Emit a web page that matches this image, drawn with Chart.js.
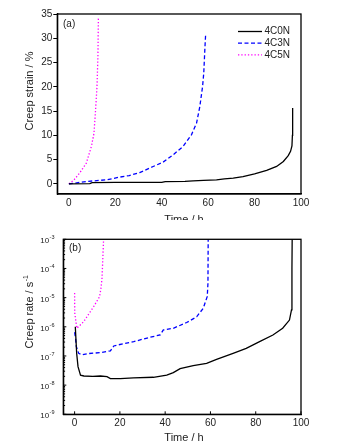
<!DOCTYPE html>
<html>
<head>
<meta charset="utf-8">
<script src="https://cdn.jsdelivr.net/npm/chart.js@4.4.0/dist/chart.umd.min.js"></script>
<style>
  body { margin: 0; background: #fff; }
  #boxA { position: absolute; left: 0; top: 0; width: 358px; height: 220px; }
  #boxB { position: absolute; left: 0; top: 220px; width: 358px; height: 228px; }
</style>
</head>
<body>
<div id="boxA"><canvas id="strainChart" width="358" height="220"></canvas></div>
<div id="boxB"><canvas id="rateChart" width="358" height="228"></canvas></div>
<script>
// (a) creep strain (%) vs time (h)
var seriesNames = ["4C0N", "4C3N", "4C5N"];
var strainTimeOne = [0, 9, 10, 20, 30, 40, 41.5, 50, 53.5, 58, 63.6, 67, 70.8, 75, 80, 85.2, 89.5, 92.4, 94.5, 95.5, 96.1, 96.3, 96.4];
var strainOne = [0, 0.05, 0.25, 0.28, 0.3, 0.3, 0.45, 0.5, 0.6, 0.7, 0.83, 1.0, 1.17, 1.5, 2.06, 2.75, 3.58, 4.6, 5.8, 6.7, 7.8, 10, 15.6];
var strainTimeTwo = [0, 2.5, 8, 16.1, 21.9, 26, 30.5, 36.3, 40.6, 44.9, 49.2, 52.8, 55, 56.4, 57.6, 58.1, 58.6, 58.9];
var strainTwo = [0, 0.14, 0.5, 0.82, 1.38, 1.7, 2.3, 3.57, 4.47, 5.98, 7.7, 10.1, 12.5, 15.9, 20.1, 22.8, 28, 30.7];
var strainTimeThree = [0, 2, 4.6, 7.5, 9.7, 10.8, 11.5, 12.1, 12.5, 12.7];
var strainThree = [0, 0.7, 2.2, 4.26, 7.7, 10.4, 15.3, 20, 26.2, 34.2];

// (b) creep rate (1/s) vs time (h)
var rateTimeOne = [0.3, 0.9, 1.5, 2.6, 4.1, 8, 11.4, 14.3, 15.8, 20.2, 26, 34.8, 40.7, 43.6, 46.6, 52.4, 58.3, 62.7, 70, 75.8, 81.7, 87.6, 91.9, 94.9, 95.8, 96, 96.1];
var rateOne = [1e-6, 1.24e-7, 4.3e-8, 2.2e-8, 2.06e-8, 2.0e-8, 2.06e-8, 1.95e-8, 1.67e-8, 1.67e-8, 1.76e-8, 1.86e-8, 2.2e-8, 2.68e-8, 3.68e-8, 4.67e-8, 5.6e-8, 7.7e-8, 1.23e-7, 1.83e-7, 3.1e-7, 5.25e-7, 8.9e-7, 1.7e-6, 3.8e-6, 1e-4, 1e-3];
var rateTimeTwo = [0, 0.4, 0.75, 1.8, 3.3, 5.6, 11.4, 15.8, 17.3, 18.7, 26.1, 33.4, 37.8, 39.2, 43.6, 49.5, 53.9, 56.8, 58.6, 58.9, 59];
var rateTwo = [6.5e-7, 4e-7, 2.1e-7, 1.23e-7, 1.1e-7, 1.2e-7, 1.3e-7, 1.5e-7, 2.2e-7, 2.35e-7, 3.1e-7, 4.4e-7, 5.25e-7, 7.8e-7, 8.9e-7, 1.4e-6, 2.2e-6, 4.3e-6, 1.1e-5, 3.1e-5, 1e-3];
var rateTimeThree = [0, 0.05, 1, 4, 8.4, 11, 11.6, 12.1, 12.8];
var rateThree = [1.45e-5, 3e-6, 8.9e-7, 1.5e-6, 4.9e-6, 1.07e-5, 2e-5, 4.6e-5, 1e-3];

var timeTicks = [0, 20, 40, 60, 80, 100];
var strainTicks = [0, 5, 10, 15, 20, 25, 30, 35];
var rateExponents = [-9, -8, -7, -6, -5, -4, -3];

var FONT = '"Liberation Sans", Arial, sans-serif';
var colors = ["#000000", "#0000ff", "#ff00ff"];
var dashes = [[], [4, 2.5], [1.3, 2]];

function toPoints(xs, ys) {
  return xs.map(function (x, i) { return { x: x, y: ys[i] }; });
}

function makeSet(i, xs, ys) {
  return {
    label: seriesNames[i],
    data: toPoints(xs, ys),
    borderColor: colors[i],
    borderWidth: 1.3,
    borderDash: dashes[i],
    pointRadius: 0,
    tension: 0,
    fill: false
  };
}

// box round the plot area
function drawFrame(chart) {
  var ctx = chart.ctx, a = chart.chartArea;
  ctx.save();
  ctx.strokeStyle = "#000";
  ctx.lineWidth = 1.3;
  ctx.strokeRect(a.left, a.top, a.right - a.left, a.bottom - a.top);
  ctx.restore();
}

// draws axis titles, panel letter and legend
function drawExtras(chart, cfg) {
  var ctx = chart.ctx;
  ctx.save();
  ctx.fillStyle = "#222";
  ctx.textBaseline = "middle";

  // y title, rotated, with optional superscript
  ctx.save();
  ctx.translate(30, cfg.yTitleY);
  ctx.rotate(-Math.PI / 2);
  ctx.font = "11px " + FONT;
  var w1 = ctx.measureText(cfg.yTitle).width;
  var w2 = 0;
  if (cfg.ySup) {
    ctx.font = "7px " + FONT;
    w2 = ctx.measureText(cfg.ySup).width;
  }
  var sx = -(w1 + w2) / 2;
  ctx.font = "11px " + FONT;
  ctx.textAlign = "left";
  ctx.fillText(cfg.yTitle, sx, 0);
  if (cfg.ySup) {
    ctx.font = "7px " + FONT;
    ctx.fillText(cfg.ySup, sx + w1 + 0.5, -4);
  }
  ctx.restore();

  // x title
  ctx.font = "11px " + FONT;
  ctx.textAlign = "center";
  ctx.fillText("Time / h", 184, cfg.xTitleY);

  // panel letter
  ctx.font = "10px " + FONT;
  ctx.textAlign = "left";
  ctx.fillText(cfg.panel, cfg.panelX, cfg.panelY);

  // legend
  if (cfg.legend) {
    chart.data.datasets.forEach(function (ds, i) {
      var y = 31.5 + i * 11.7;
      ctx.save();
      ctx.strokeStyle = ds.borderColor;
      ctx.lineWidth = 1.3;
      ctx.setLineDash(ds.borderDash);
      ctx.beginPath();
      ctx.moveTo(238, y);
      ctx.lineTo(262, y);
      ctx.stroke();
      ctx.restore();
      ctx.font = "10px " + FONT;
      ctx.fillStyle = "#222";
      ctx.fillText(ds.label, 264.5, y);
    });
  }
  ctx.restore();
}

var strainExtras = {
  id: "strainExtras",
  afterDraw: function (chart) {
    drawFrame(chart);
    drawExtras(chart, { yTitle: "Creep strain / %", yTitleY: 91, xTitleY: 220, panel: "(a)", panelX: 63, panelY: 24.5, legend: true });
  }
};

var rateExtras = {
  id: "rateExtras",
  afterDraw: function (chart) {
    var ctx = chart.ctx;
    var ys = chart.scales.y, xs = chart.scales.x, a = chart.chartArea;
    drawFrame(chart);
    ctx.save();
    ctx.strokeStyle = "#000";
    ctx.lineWidth = 1;
    ctx.fillStyle = "#222";
    ctx.textBaseline = "middle";
    rateExponents.forEach(function (e) {
      var py = ys.getPixelForValue(Math.pow(10, e));
      // major tick inward
      ctx.beginPath();
      ctx.moveTo(a.left, py);
      ctx.lineTo(a.left + 3, py);
      ctx.stroke();
      // minor ticks
      if (e < -3) {
        for (var m = 2; m <= 9; m++) {
          var my = ys.getPixelForValue(m * Math.pow(10, e));
          ctx.beginPath();
          ctx.moveTo(a.left, my);
          ctx.lineTo(a.left + 1.8, my);
          ctx.stroke();
        }
      }
      // label 10^e
      ctx.font = "5.5px " + FONT;
      var sup = "-" + Math.abs(e);
      var ew = ctx.measureText(sup).width;
      ctx.textAlign = "left";
      ctx.fillText(sup, 54.5 - ew, py - 1.5);
      ctx.font = "8px " + FONT;
      ctx.textAlign = "right";
      ctx.fillText("10", 54 - ew, py + 1.8);
    });
    timeTicks.forEach(function (t) {
      var px = xs.getPixelForValue(t);
      ctx.beginPath();
      ctx.moveTo(px, a.bottom);
      ctx.lineTo(px, a.bottom - 3);
      ctx.stroke();
    });
    ctx.restore();
    drawExtras(chart, { yTitle: "Creep rate / s", ySup: "-1", yTitleY: 92, xTitleY: 217.5, panel: "(b)", panelX: 69, panelY: 28, legend: false });
  }
};

var tickFont = { family: FONT, size: 10 };
var frame = { display: true, color: "#000", width: 1.3 };

new Chart(document.getElementById("strainChart"), {
  type: "line",
  data: {
    datasets: [
      makeSet(0, strainTimeOne, strainOne),
      makeSet(1, strainTimeTwo, strainTwo),
      makeSet(2, strainTimeThree, strainThree)
    ]
  },
  options: {
    responsive: false,
    animation: false,
    devicePixelRatio: 1,
    layout: { padding: { top: 14, right: 57, left: 0, bottom: 0 } },
    plugins: { legend: { display: false }, tooltip: { enabled: false } },
    scales: {
      x: {
        type: "linear",
        min: -5,
        max: 100,
        afterBuildTicks: function (s) { s.ticks = timeTicks.map(function (v) { return { value: v }; }); },
        afterFit: function (s) { s.height = 26; },
        grid: { display: false, drawTicks: false },
        border: frame,
        ticks: { font: tickFont, color: "#222", padding: 3, maxRotation: 0 }
      },
      y: {
        min: -2.1,
        max: 35,
        afterBuildTicks: function (s) { s.ticks = strainTicks.map(function (v) { return { value: v }; }); },
        afterFit: function (s) { s.width = 57.3; },
        grid: { display: true, drawOnChartArea: false, drawTicks: true, tickLength: 4, color: "#000" },
        border: frame,
        ticks: { font: tickFont, color: "#222", padding: 1 }
      }
    }
  },
  plugins: [strainExtras]
});

new Chart(document.getElementById("rateChart"), {
  type: "line",
  data: {
    datasets: [
      makeSet(0, rateTimeOne, rateOne),
      makeSet(1, rateTimeTwo, rateTwo),
      makeSet(2, rateTimeThree, rateThree)
    ]
  },
  options: {
    responsive: false,
    animation: false,
    devicePixelRatio: 1,
    layout: { padding: { top: 19.3, right: 57, left: 0, bottom: 0 } },
    plugins: { legend: { display: false }, tooltip: { enabled: false } },
    scales: {
      x: {
        type: "linear",
        min: -5,
        max: 100,
        afterBuildTicks: function (s) { s.ticks = timeTicks.map(function (v) { return { value: v }; }); },
        afterFit: function (s) { s.height = 33.7; },
        grid: { display: false, drawTicks: false },
        border: frame,
        ticks: { font: tickFont, color: "#222", padding: 3, maxRotation: 0 }
      },
      y: {
        type: "logarithmic",
        min: 1e-9,
        max: 1e-3,
        afterBuildTicks: function (s) { s.ticks = rateExponents.map(function (e) { return { value: Math.pow(10, e) }; }); },
        afterFit: function (s) { s.width = 63.3; },
        grid: { display: false, drawTicks: false },
        border: frame,
        ticks: { display: false }
      }
    }
  },
  plugins: [rateExtras]
});
</script>
</body>
</html>
